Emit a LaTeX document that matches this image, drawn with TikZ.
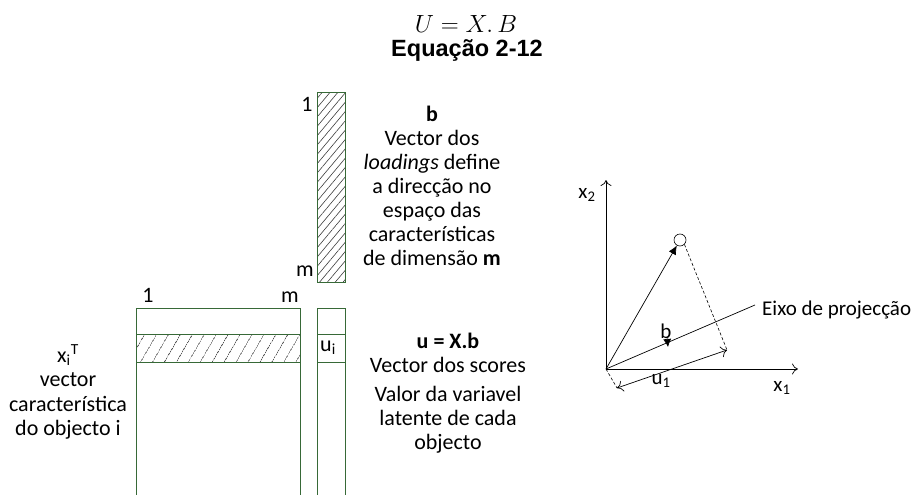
\documentclass[tikz,border=0pt]{standalone}
\usepackage{fontspec}
\setmainfont{Carlito}
\newfontfamily\arialf{Liberation Sans}
\usetikzlibrary{patterns.meta,arrows.meta}
\definecolor{boxgreen}{RGB}{55,105,55}
\definecolor{hatchgray}{RGB}{60,60,60}
\tikzset{
  txt/.style={font=\fontsize{21}{25}\selectfont, inner sep=0pt, align=center},
  blocktxt/.style={font=\fontsize{22}{24}\selectfont, inner sep=0pt, align=center},
  matbox/.style={draw=boxgreen, line width=0.9pt},
  hatchv/.style={pattern={Lines[angle=50,distance=6pt,line width=0.6pt]}, pattern color=hatchgray},
  hatchh/.style={pattern={Lines[angle=60,distance=10.5pt,line width=0.6pt]}, pattern color=hatchgray},
  axisline/.style={draw=black, line width=0.7pt, -{To[length=6pt,width=11pt]}},
  thinline/.style={draw=black, line width=0.7pt},
  dashline/.style={draw=black, line width=0.6pt, dash pattern=on 3pt off 2pt},
  solidhead/.style={draw=black, line width=0.7pt, -{Latex[length=9pt,width=8pt]}},
}
\begin{document}
\begin{tikzpicture}[x=1pt,y=-1pt]
\useasboundingbox (0,0) rectangle (913,495);

% title
\node[inner sep=0pt, font=\fontsize{25}{28}\selectfont] (eq) at (466,24) {$U = X.\,B$};
\node[inner sep=0pt, font=\arialf\bfseries\fontsize{23.5}{26}\selectfont] (eqlab) at (467,50) {Equação 2-12};

% vector b
\fill[hatchv] (317,92) rectangle (345,282);
\draw[matbox] (317,92) rectangle (345,282);
\node[blocktxt, anchor=base] (b1) at (307,111) {1};
\node[blocktxt, anchor=base] (bm) at (305,276) {m};
\node[blocktxt] (btext) at (432,186) {\textbf{b}\\Vector dos\\\textit{loadings} define\\a direcção no\\espaço das\\características\\de dimensão \textbf{m}};

% matrix X
\fill[hatchh] (136,334) rectangle (300,362);
\draw[matbox] (136,495) -- (136,308) -- (300,308) -- (300,495);
\draw[matbox] (136,334) -- (300,334);
\draw[matbox] (136,362) -- (300,362);
\node[blocktxt, anchor=base] (x1lab) at (148,302) {1};
\node[blocktxt, anchor=base] (xmlab) at (290,302) {m};

% vector u
\draw[matbox] (317,495) -- (317,308) -- (345,308) -- (345,495);
\draw[matbox] (317,334) -- (345,334);
\draw[matbox] (317,362) -- (345,362);
\node[blocktxt, anchor=west] (ui) at (320,348) {u\textsubscript{i}};

% left text
\node[blocktxt, font=\fontsize{22}{24.5}\selectfont] (xitext) at (68,392) {x\textsubscript{i}\textsuperscript{T}\\vector\\característica\\do objecto i};

% u text
\node[blocktxt] (utext) at (448,353) {\textbf{u = X.b}\\Vector dos scores};
\node[blocktxt] (vtext) at (448,420) {Valor da variavel\\latente de cada\\objecto};

% right diagram
\coordinate (O) at (606,369);
\coordinate (Ytop) at (606,180);
\coordinate (Xend) at (798,369);
\coordinate (Aend) at (755,305);
\coordinate (P) at (727,350);
\coordinate (Q) at (617,388);
\coordinate (bs) at (667,337);
\coordinate (bt) at (668,347);
\node[draw=black, circle, line width=0.6pt, minimum size=12pt, inner sep=0pt] (pt) at (680,240) {};

\draw[axisline] (O) -- (Ytop);
\draw[axisline] (O) -- (Xend);
\draw[thinline] (O) -- (Aend);
\draw[solidhead] (O) -- (pt);
\draw[dashline] (pt.south east) -- (P);
\draw[dashline] (O) -- (Q);
\draw[thinline, {To[length=6pt,width=11pt]}-{To[length=6pt,width=11pt]}] (Q) -- (P);
\draw[draw=black, line width=0.6pt, -{Latex[length=8pt,width=8pt]}] (bs) -- (bt);

\node[txt] (x2lab) at (587,195) {x\textsubscript{2}};
\node[txt] (x1axlab) at (782,388) {x\textsubscript{1}};
\node[txt] (u1lab) at (661,381) {u\textsubscript{1}};
\node[txt] (blab) at (666,331) {b};
\node[txt, anchor=west] (eixo) at (762,310) {Eixo de projecção};
\end{tikzpicture}
\end{document}
